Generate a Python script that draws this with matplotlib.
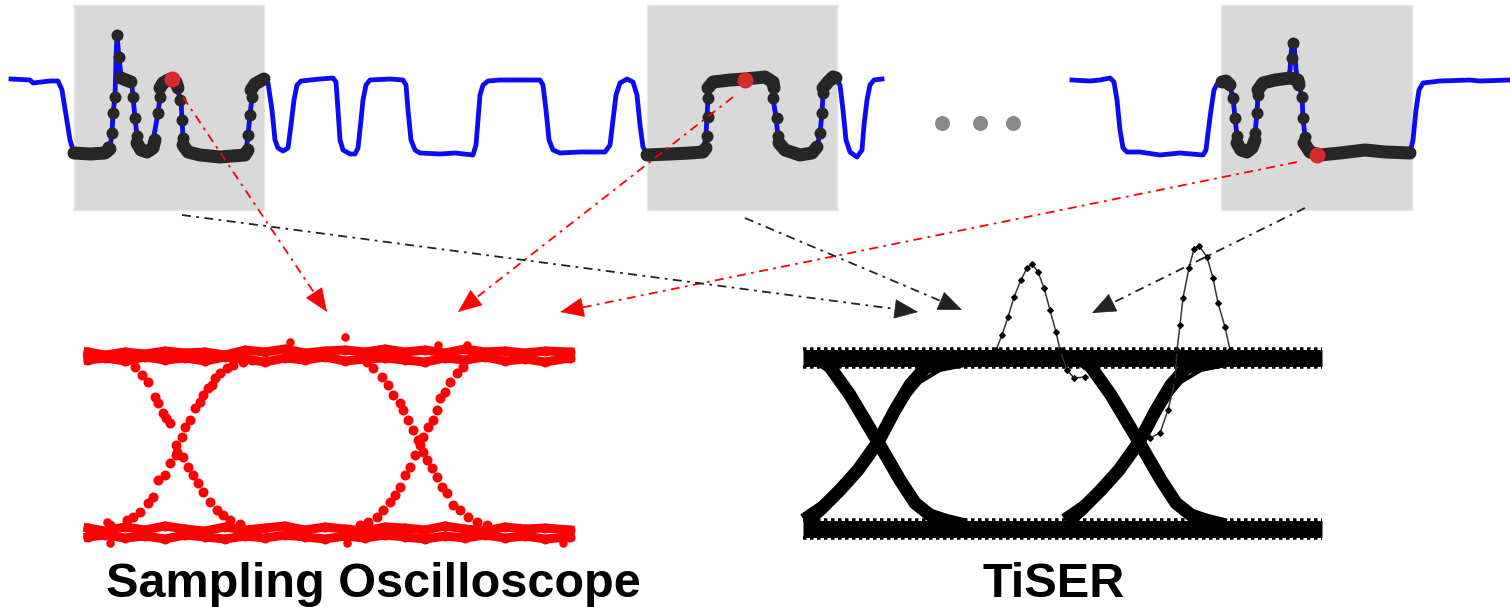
import math
import matplotlib.pyplot as plt
from matplotlib.patches import Rectangle

W, H = 1510, 607

# Top waveform: time (x) and level (y, y axis points down)
wave_a_x = [11, 30, 33, 50, 58, 62, 66, 70, 73, 76, 90, 105, 108, 110, 112, 113, 115, 116, 117, 119, 121, 124,
            130, 132, 133, 135, 137, 140, 145, 150, 153, 155, 158, 160, 163, 168, 172, 176, 179, 181, 182, 183,
            186, 190, 200, 220, 240, 246, 248, 250, 252, 255, 260, 265, 268, 272, 275, 278, 283, 288, 291, 294,
            297, 301, 320, 333, 336, 338, 340, 343, 350, 355, 358, 361, 363, 366, 370, 390, 403, 406, 408, 411,
            415, 420, 440, 455, 473, 476, 478, 480, 483, 488, 500, 540, 543, 546, 549, 553, 560, 580, 605, 610,
            613, 616, 620, 627, 633, 637, 640, 643, 647, 660, 680, 700, 704, 706, 707, 708, 710, 713, 725, 745,
            767, 772, 773, 776, 778, 781, 786, 800, 812, 817, 820, 822, 823, 826, 832, 837, 840, 843, 846, 850,
            857, 862, 864, 867, 870, 874, 882]
wave_a_y = [79, 80, 83, 81, 81, 90, 115, 140, 150, 152, 153, 153, 150, 147, 133, 113, 97, 58, 35, 58, 75, 79,
            80, 85, 97, 118, 136, 146, 150, 147, 140, 130, 113, 97, 85, 80, 79, 83, 95, 100, 120, 138,
            148, 153, 155, 157, 157, 152, 135, 115, 97, 85, 80, 80, 83, 110, 140, 148, 151, 148, 125, 100,
            85, 81, 79, 78, 82, 110, 140, 150, 154, 154, 148, 120, 100, 85, 80, 79, 80, 85, 110, 140,
            150, 153, 154, 153, 155, 145, 120, 95, 85, 81, 80, 80, 85, 110, 140, 150, 153, 152, 152, 145,
            120, 95, 83, 79, 82, 95, 125, 147, 154, 155, 153, 152, 148, 135, 117, 98, 88, 82, 80, 79,
            77, 82, 98, 118, 136, 146, 152, 155, 153, 147, 133, 113, 93, 85, 78, 80, 85, 110, 140, 152,
            157, 150, 125, 100, 85, 80, 79]
wave_b_x = [1072, 1090, 1100, 1110, 1114, 1117, 1120, 1123, 1127, 1140, 1160, 1180, 1203, 1206, 1208, 1211,
            1214, 1217, 1222, 1226, 1230, 1233, 1235, 1237, 1240, 1245, 1250, 1253, 1255, 1257, 1258, 1260,
            1264, 1275, 1288, 1290, 1292, 1294, 1296, 1298, 1299, 1302, 1303, 1305, 1308, 1313, 1317, 1330,
            1350, 1365, 1380, 1400, 1410, 1413, 1416, 1419, 1423, 1440, 1470, 1480, 1510]
wave_b_y = [80, 81, 80, 78, 82, 100, 130, 148, 152, 152, 155, 153, 155, 150, 133, 110,
            90, 84, 81, 82, 87, 98, 118, 136, 146, 151, 148, 140, 133, 113, 95, 86,
            82, 80, 79, 70, 43, 43, 70, 80, 85, 97, 118, 137, 148, 153, 155, 153,
            151, 150, 152, 153, 153, 140, 110, 90, 83, 81, 80, 81, 80]

# Sampling windows (start, end time)
windows = [(74, 264), (647, 837), (1221, 1412)]

# Dense samples (bands) and single samples inside each window
win_bands = [
    [([74, 90, 105, 110], [153, 154, 153, 149]),
     ([121, 126, 131], [78, 80, 82]),
     ([137, 141, 147, 153, 155], [143, 150, 152, 148, 140]),
     ([160, 163, 168, 176, 178], [88, 83, 80, 82, 88]),
     ([183, 188, 200, 220, 245, 248], [145, 152, 155, 157, 155, 150]),
     ([251, 255, 262, 264], [90, 84, 80, 79])],
    [([647, 670, 690, 703, 706], [155, 154, 153, 152, 148]),
     ([708, 713, 730, 745, 765, 773, 774], [88, 82, 80, 79, 77, 82, 88]),
     ([779, 785, 800, 812, 817], [143, 150, 155, 153, 147]),
     ([823, 828, 833, 836], [88, 82, 77, 78])],
    [([1222, 1226, 1230], [82, 81, 85]),
     ([1237, 1241, 1247, 1252, 1255], [143, 150, 152, 148, 140]),
     ([1258, 1263, 1275, 1290, 1298, 1299], [90, 83, 80, 78, 80, 85]),
     ([1304, 1310, 1320, 1340, 1365, 1385, 1410], [143, 152, 155, 153, 150, 152, 153])],
]
dots_x = [108, 112, 113, 115, 117, 119, 133, 135, 137, 158, 160, 180, 182, 183, 248, 250, 252,
          707, 708, 708, 773, 777, 778, 820, 822, 823,
          1233, 1235, 1237, 1255, 1257, 1258, 1292, 1293, 1302, 1303, 1305]
dots_y = [147, 133, 113, 97, 35, 57, 97, 118, 136, 113, 97, 100, 120, 138, 135, 115, 97,
          136, 117, 98, 98, 118, 136, 133, 113, 93,
          98, 118, 136, 133, 113, 95, 58, 43, 97, 118, 137]
scope_sample_x = [172, 745, 1317]
scope_sample_y = [79, 80, 155]
ellipsis_x = [942, 980, 1013]
ellipsis_y = [123, 123, 123]

# Sampling oscilloscope eye: rails and transition branches
rail_x = [88, 105, 125, 145, 165, 185, 205, 225, 245, 265, 285, 305, 325, 345, 365, 385, 405, 425, 445, 465,
          485, 505, 525, 545, 570]
red_top_a = [352, 355, 352, 354, 351, 353, 352, 355, 350, 352, 349, 353, 351, 350, 352, 349, 352, 350, 353,
             349, 352, 351, 353, 351, 352]
red_top_b = [360, 358, 361, 357, 360, 358, 361, 357, 359, 362, 358, 360, 357, 361, 359, 358, 360, 362, 358,
             360, 357, 361, 359, 362, 358]
red_bot_a = [528, 531, 527, 530, 526, 529, 531, 527, 530, 528, 526, 530, 527, 529, 531, 527, 528, 530, 526,
             529, 531, 527, 529, 528, 530]
red_bot_b = [537, 535, 538, 536, 539, 535, 537, 539, 536, 538, 535, 537, 539, 536, 538, 535, 537, 539, 536,
             538, 535, 538, 536, 539, 537]
red_branches = [
    ([177, 182, 185, 190, 195, 200, 203, 208, 212, 215, 220, 227, 233, 243, 252],
     [452, 437, 427, 420, 408, 402, 395, 388, 385, 378, 373, 368, 365, 362, 360]),
    ([183, 188, 193, 198, 203, 210, 217, 223, 230, 240],
     [457, 467, 475, 483, 492, 502, 510, 515, 520, 524]),
    ([176, 170, 166, 163, 158, 155, 148, 142, 135, 128],
     [445, 423, 418, 413, 403, 397, 382, 375, 367, 360]),
    ([176, 170, 165, 158, 153, 148, 140, 133, 127, 110],
     [455, 463, 475, 480, 497, 503, 512, 517, 520, 525]),
    ([418, 413, 408, 403, 400, 393, 388, 382, 373, 367],
     [440, 430, 420, 410, 403, 395, 385, 377, 368, 362]),
    ([420, 423, 428, 433, 437, 440, 445, 450, 457, 463, 470],
     [445, 437, 427, 420, 410, 398, 392, 382, 373, 367, 358]),
    ([415, 410, 405, 400, 395, 390, 383, 377, 368, 360],
     [455, 467, 475, 487, 495, 502, 510, 517, 522, 525]),
    ([423, 427, 432, 437, 442, 447, 453, 460, 468, 477, 487],
     [452, 460, 468, 477, 487, 493, 505, 510, 517, 522, 525]),
]
red_stray_x = [290, 345, 438, 467, 110, 563, 347, 107]
red_stray_y = [342, 337, 345, 345, 543, 543, 543, 522]

# TiSER eye
tiser_rail_x = [803, 1322]
tiser_top_y = [358, 358]
tiser_bot_y = [529, 529]
tiser_cross_x = [0, 261]  # crossing offsets (one unit interval apart)
tiser_rise_x = [806, 820, 840, 858, 878, 895, 910, 925, 945, 965]
tiser_rise_y = [522, 510, 490, 470, 442, 410, 385, 368, 362, 360]
tiser_rise2_x = [803, 825, 848, 870, 890, 905, 920, 940, 965]
tiser_rise2_y = [515, 500, 478, 452, 425, 400, 382, 370, 365]
tiser_fall_x = [815, 830, 850, 878, 900, 915, 930, 945, 965]
tiser_fall_y = [356, 367, 395, 442, 480, 503, 515, 520, 525]
peak1_x = [996, 1002, 1008, 1014, 1021, 1027, 1032, 1038, 1044, 1050, 1056, 1060, 1067, 1074, 1085]
peak1_y = [350, 335, 317, 297, 280, 268, 264, 272, 288, 310, 332, 350, 370, 378, 377]
peak2_x = [1150, 1160, 1168, 1175, 1177, 1180, 1183, 1189, 1194, 1199, 1207, 1213, 1218, 1225, 1230]
peak2_y = [438, 433, 410, 381, 350, 325, 298, 268, 249, 246, 257, 278, 303, 327, 350]

labels = ['Sampling Oscilloscope', 'TiSER']

PT = 0.72  # points per pixel at dpi 100

fig = plt.figure(figsize=(W / 100, H / 100), dpi=100)


def px_axes(x0, y0, x1, y1):
    ax = fig.add_axes([x0 / W, 1 - y1 / H, (x1 - x0) / W, (y1 - y0) / H])
    ax.set_xlim(x0, x1)
    ax.set_ylim(y1, y0)
    ax.axis('off')
    ax.patch.set_alpha(0)
    return ax


# top waveform
ax = px_axes(0, 0, 1510, 230)
for (a, b) in windows:
    ax.add_patch(Rectangle((a, 5), b - a, 205, facecolor='#d9d9d9', edgecolor='#e6e6e6', lw=1, zorder=1))
ax.plot(wave_a_x, wave_a_y, color='#0b0bf5', lw=4.8 * PT, solid_joinstyle='round', zorder=2)
ax.plot(wave_b_x, wave_b_y, color='#0b0bf5', lw=4.8 * PT, solid_joinstyle='round', zorder=2)
for bands in win_bands:
    for bx, by in bands:
        ax.plot(bx, by, color='#262626', lw=13 * PT, solid_capstyle='round', solid_joinstyle='round', zorder=3)
ax.plot(dots_x, dots_y, 'o', color='#262626', ms=12 * PT, mec='none', zorder=3)
ax.plot(scope_sample_x, scope_sample_y, 'o', color='#d62b2b', ms=16 * PT, mec='none', zorder=4)
ax.plot(ellipsis_x, ellipsis_y, 'o', color='#888888', ms=15 * PT, mec='none', zorder=2)

# sampling oscilloscope eye
ax = px_axes(60, 320, 600, 560)
for ry in [red_top_a, red_top_b, red_bot_a, red_bot_b]:
    ax.plot(rail_x, ry, '-o', color='#ff0000', lw=9 * PT, ms=10 * PT, mec='none')
for bx, by in red_branches:
    ax.plot(bx, by, 'o', color='#ff0000', ms=10 * PT, mec='none')
ax.plot(red_stray_x, red_stray_y, 'o', color='#ff0000', ms=8.5 * PT, mec='none')

# TiSER eye
ax = px_axes(790, 230, 1340, 560)
for ry in [tiser_top_y, tiser_bot_y]:
    ax.plot(tiser_rail_x, ry, color='black', lw=17 * PT, solid_capstyle='butt')
    ax.plot(tiser_rail_x, [v - 9 for v in ry], color='black', lw=3.5 * PT, ls=(0, (1, 1)))
    ax.plot(tiser_rail_x, [v + 9 for v in ry], color='black', lw=3.5 * PT, ls=(0, (1, 1)))
for off in tiser_cross_x:
    ax.plot([x + off for x in tiser_rise_x], tiser_rise_y, color='black', lw=13 * PT, solid_capstyle='butt')
    ax.plot([x + off for x in tiser_rise2_x], tiser_rise2_y, color='black', lw=4 * PT)
    ax.plot([x + off for x in tiser_fall_x], tiser_fall_y, color='black', lw=13 * PT, solid_capstyle='butt')
ax.plot(peak1_x, peak1_y, '-D', color='#333333', lw=1.5 * PT, ms=4 * PT, mfc='black', mec='black')
ax.plot(peak2_x, peak2_y, '-D', color='#333333', lw=1.5 * PT, ms=4 * PT, mfc='black', mec='black')

# overlay: mapping arrows and labels
ov = px_axes(0, 0, W, H)
arrows = [((183, 97), (327, 312), '#ff0000'), ((733, 97), (458, 312), '#ff0000'),
          ((1297, 162), (560, 312), '#ff0000'), ((182, 215), (918, 312), '#222222'),
          ((745, 218), (962, 310), '#222222'), ((1305, 208), (1092, 313), '#222222')]
head = 16  # arrow head length, px
for (x0, y0), (x1, y1), c in arrows:
    d = math.hypot(x1 - x0, y1 - y0)
    bx, by = x1 - (x1 - x0) * head / d, y1 - (y1 - y0) * head / d
    ov.plot([x0, bx], [y0, by], color=c, lw=1.8 * PT, ls=(0, (5, 3, 1.5, 3)))
    ov.annotate('', xy=(x1, y1), xytext=(bx, by),
                arrowprops=dict(arrowstyle='-|>,head_length=0.8,head_width=0.33', color=c,
                                lw=0.5, mutation_scale=20, shrinkA=0, shrinkB=0))
ov.text(373, 597, labels[0], ha='center', va='baseline', fontsize=35, fontweight='bold',
        family=['Liberation Sans', 'DejaVu Sans'])
ov.text(1054, 597, labels[1], ha='center', va='baseline', fontsize=35, fontweight='bold',
        family=['Liberation Sans', 'DejaVu Sans'])

fig.savefig('out.png', dpi=100)
